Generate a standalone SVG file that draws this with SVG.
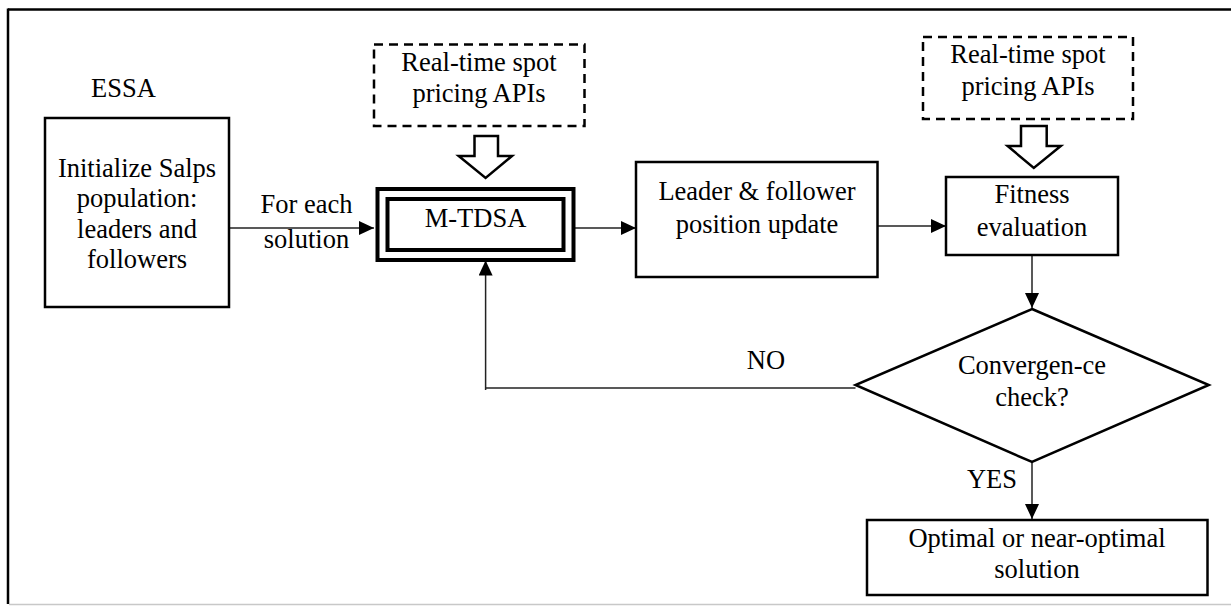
<svg xmlns="http://www.w3.org/2000/svg" width="1231" height="606" viewBox="0 0 1231 606">
<style>
  text { font-family: "Liberation Serif", "Times New Roman", serif; font-size: 26.5px; fill: #000; text-anchor: middle; }
  .box { fill: #fff; stroke: #000; stroke-width: 2.5; }
  .dash { fill: #fff; stroke: #000; stroke-width: 2.5; stroke-dasharray: 9 6; }
  .thick { fill: none; stroke: #000; stroke-width: 4; }
  .conn { fill: none; stroke: #222; stroke-width: 1.5; }
  .block { fill: #fff; stroke: #000; stroke-width: 2.5; stroke-linejoin: miter; }
</style>
<defs>
  <marker id="arr" markerUnits="userSpaceOnUse" markerWidth="15" markerHeight="14" refX="15" refY="7" orient="auto">
    <path d="M0,0 L15,7 L0,14 Z" fill="#000"/>
  </marker>
</defs>
<rect width="1231" height="606" fill="#fff"/>
<g id="frame">
  <line x1="8" y1="9.5" x2="1231" y2="9.5" stroke="#000" stroke-width="2.5"/>
  <line x1="8" y1="8.5" x2="8" y2="604" stroke="#000" stroke-width="2.5"/>
  <line x1="9" y1="604.5" x2="1231" y2="604.5" stroke="#c8c8c8" stroke-width="1.5"/>
</g>
<g id="essa-label"><text x="123.5" y="97">ESSA</text></g>
<g id="connectors">
  <line class="conn" x1="229" y1="228" x2="374" y2="228" marker-end="url(#arr)"/>
  <line class="conn" x1="573" y1="228" x2="636" y2="228" marker-end="url(#arr)"/>
  <line class="conn" x1="878" y1="226" x2="946" y2="226" marker-end="url(#arr)"/>
  <line class="conn" x1="1032" y1="255" x2="1032" y2="308" marker-end="url(#arr)"/>
  <polyline class="conn" points="855.5,388 485.6,388" />
  <line class="conn" x1="485.6" y1="390" x2="485.6" y2="260.5" marker-end="url(#arr)"/>
  <line class="conn" x1="1032" y1="462" x2="1032" y2="519" marker-end="url(#arr)"/>
  <polygon class="block" points="474.5,136 498,136 498,156 512,156 485.6,178 458.7,156 474.5,156"/>
  <polygon class="block" points="1021,126 1046.7,126 1046.7,146 1060.8,146 1033.8,168 1007.6,146 1021,146"/>
  <text x="306.5" y="213">For each</text>
  <text x="306.5" y="248">solution</text>
  <text x="766" y="369">NO</text>
  <text x="992" y="488">YES</text>
</g>
<g id="init">
  <rect class="box" x="45" y="118" width="184" height="189"/>
  <text x="137" y="177">Initialize Salps</text>
  <text x="137" y="207">population:</text>
  <text x="137" y="238">leaders and</text>
  <text x="137" y="268">followers</text>
</g>
<g id="api1">
  <rect class="dash" x="374" y="44.5" width="210.5" height="81.5"/>
  <text x="479" y="71">Real-time spot</text>
  <text x="479" y="102">pricing APIs</text>
</g>
<g id="mtdsa">
  <rect class="thick" x="377.5" y="189" width="196" height="71"/>
  <rect class="thick" x="387.5" y="199" width="176" height="51"/>
  <text x="475.5" y="227">M-TDSA</text>
</g>
<g id="update">
  <rect class="box" x="636" y="162" width="241.5" height="115"/>
  <text x="757" y="200">Leader &amp; follower</text>
  <text x="757" y="233">position update</text>
</g>
<g id="api2">
  <rect class="dash" x="923" y="37" width="210" height="82"/>
  <text x="1028" y="63">Real-time spot</text>
  <text x="1028" y="95">pricing APIs</text>
</g>
<g id="fitness">
  <rect class="box" x="946" y="177" width="172" height="78"/>
  <text x="1032" y="203">Fitness</text>
  <text x="1032" y="236">evaluation</text>
</g>
<g id="convergence">
  <polygon class="box" points="1032,309 1208.8,385 1032,462 855.5,385"/>
  <text x="1032" y="374">Convergen-ce</text>
  <text x="1032" y="406">check?</text>
</g>
<g id="optimal">
  <rect class="box" x="867" y="520" width="340.5" height="75"/>
  <text x="1037" y="547">Optimal or near-optimal</text>
  <text x="1037" y="578">solution</text>
</g>
</svg>
